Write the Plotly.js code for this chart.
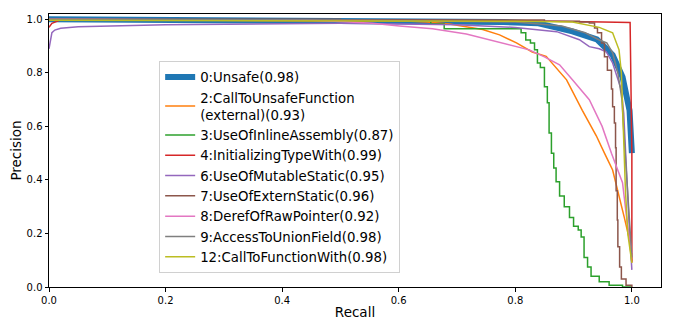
<!DOCTYPE html>
<html>
<head>
<meta charset="utf-8">
<script src="https://cdn.plot.ly/plotly-3.0.1.min.js"></script>
<style>html,body{margin:0;padding:0;background:#fff;}#chart{width:675px;height:325px;}</style>
</head>
<body>
<div id="chart"></div>
<script>
// Series names
const names = [
  "0:Unsafe(0.98)",
  "2:CallToUnsafeFunction<br>(external)(0.93)",
  "3:UseOfInlineAssembly(0.87)",
  "4:InitializingTypeWith(0.99)",
  "6:UseOfMutableStatic(0.95)",
  "7:UseOfExternStatic(0.96)",
  "8:DerefOfRawPointer(0.92)",
  "9:AccessToUnionField(0.98)",
  "12:CallToFunctionWith(0.98)"
];
const colors = ["#1f77b4","#ff7f0e","#2ca02c","#d62728","#9467bd","#8c564b","#e377c2","#7f7f7f","#bcbd22"];

// Recall / precision values
const recall0 = [0, 0.3, 0.5, 0.6, 0.7, 0.78, 0.84, 0.898, 0.94, 0.967, 0.984, 0.996, 1.0];
const prec0   = [1.0, 0.998, 0.996, 0.994, 0.993, 0.99, 0.985, 0.955, 0.925, 0.867, 0.785, 0.66, 0.50];

const recall2 = [0, 0.3, 0.55, 0.62, 0.648, 0.687, 0.744, 0.773, 0.802, 0.829, 0.853, 0.888, 0.915, 0.939, 0.953, 0.967, 0.987, 0.996, 1.0];
const prec2   = [1.0, 0.997, 0.995, 0.993, 0.99, 0.983, 0.962, 0.942, 0.912, 0.878, 0.862, 0.774, 0.66, 0.565, 0.5, 0.437, 0.26, 0.176, 0.09];

const recall3 = [0, 0.5, 0.655, 0.678, 0.80, 0.81, 0.818, 0.826, 0.833, 0.838, 0.843, 0.85, 0.855, 0.858, 0.862, 0.866, 0.870, 0.876, 0.884, 0.893, 0.900, 0.908, 0.913, 0.918, 0.924, 0.930, 0.944, 0.961, 0.984, 1.0];
const prec3   = [0.998, 0.995, 0.983, 0.965, 0.965, 0.95, 0.923, 0.912, 0.886, 0.837, 0.82, 0.748, 0.688, 0.575, 0.50, 0.445, 0.393, 0.34, 0.30, 0.26, 0.227, 0.213, 0.187, 0.11, 0.075, 0.04, 0.02, 0.007, 0.0, 0.0];

const recall4 = [0, 0.005, 0.02, 0.3, 0.6, 0.8, 0.9, 0.95, 0.997, 1.0, 1.0];
const prec4   = [0.97, 0.985, 0.998, 0.998, 0.997, 0.995, 0.993, 0.99, 0.988, 0.5, 0.094];

const recall6 = [0, 0.002, 0.005, 0.01, 0.02, 0.05, 0.1, 0.2, 0.5, 0.6, 0.7, 0.8, 0.871, 0.91, 0.927, 0.944, 0.956, 0.967, 0.975, 0.982, 0.986, 0.99, 0.995, 1.0];
const prec6   = [0.89, 0.92, 0.95, 0.96, 0.967, 0.972, 0.975, 0.98, 0.985, 0.983, 0.98, 0.97, 0.954, 0.924, 0.898, 0.89, 0.879, 0.837, 0.785, 0.736, 0.65, 0.45, 0.25, 0.064];

const recall7 = [0, 0.5, 0.85, 0.91, 0.927, 0.936, 0.941, 0.948, 0.953, 0.958, 0.965, 0.967, 0.970, 0.972, 0.973, 0.975, 0.976, 0.979, 0.982, 0.990, 1.0];
const prec7   = [1.0, 0.998, 0.993, 0.99, 0.986, 0.968, 0.95, 0.912, 0.86, 0.81, 0.74, 0.673, 0.613, 0.52, 0.36, 0.25, 0.15, 0.075, 0.03, 0.007, 0.0];

const recall8 = [0, 0.45, 0.49, 0.555, 0.601, 0.658, 0.716, 0.773, 0.824, 0.85, 0.876, 0.898, 0.927, 0.949, 0.965, 0.984, 0.992, 1.0];
const prec8   = [1.0, 0.997, 0.993, 0.985, 0.975, 0.965, 0.945, 0.915, 0.886, 0.86, 0.83, 0.774, 0.70, 0.6, 0.5, 0.39, 0.24, 0.127];

const recall9 = [0, 0.5, 0.8, 0.88, 0.92, 0.944, 0.957, 0.967, 0.976, 0.983, 0.985, 0.99, 0.995, 0.997, 1.0];
const prec9   = [1.0, 0.998, 0.99, 0.975, 0.95, 0.923, 0.912, 0.875, 0.80, 0.70, 0.62, 0.45, 0.28, 0.176, 0.11];

const recall12 = [0, 0.5, 0.8, 0.898, 0.944, 0.967, 0.978, 0.982, 0.984, 0.986, 0.989, 0.993, 1.0];
const prec12   = [0.997, 0.995, 0.993, 0.99, 0.97, 0.95, 0.886, 0.80, 0.70, 0.55, 0.36, 0.2, 0.09];

const xs = [recall0, recall2, recall3, recall4, recall6, recall7, recall8, recall9, recall12];
const ys = [prec0, prec2, prec3, prec4, prec6, prec7, prec8, prec9, prec12];

const traces = xs.map((x, i) => ({
  x: x, y: ys[i], type: 'scatter', mode: 'lines', name: names[i],
  line: {color: colors[i], width: i === 0 ? 6 : 1.5, shape: (i === 2 || i === 5) ? 'hv' : 'linear'}
}));

const axisCommon = {
  showline: true, linecolor: '#000', linewidth: 1, mirror: true,
  ticks: 'outside', ticklen: 3.5, tickcolor: '#000', tickwidth: 1,
  showgrid: false, zeroline: false, tickformat: '.1f', dtick: 0.2, tick0: 0,
  tickfont: {family: 'DejaVu Sans', size: 10, color: '#000'}
};

const layout = {
  width: 675, height: 325,
  margin: {l: 49, r: 14, t: 14, b: 38},
  paper_bgcolor: '#fff', plot_bgcolor: '#fff',
  font: {family: 'DejaVu Sans', color: '#000'},
  xaxis: Object.assign({}, axisCommon, {range: [0, 1.05],
    title: {text: 'Recall', font: {size: 13.5}, standoff: 3}}),
  yaxis: Object.assign({}, axisCommon, {range: [0, 1.02],
    title: {text: 'Precision', font: {size: 13.5}, standoff: 1}}),
  legend: {
    x: 0.18, y: 0.828, xanchor: 'left', yanchor: 'top',
    bgcolor: 'rgba(255,255,255,0.8)', bordercolor: '#d0d0d0', borderwidth: 1,
    font: {family: 'DejaVu Sans', size: 13.3, color: '#000'},
    itemwidth: 30, tracegroupgap: 0
  },
  showlegend: true
};

Plotly.newPlot('chart', traces, layout, {displayModeBar: false, staticPlot: true});
</script>
</body>
</html>
